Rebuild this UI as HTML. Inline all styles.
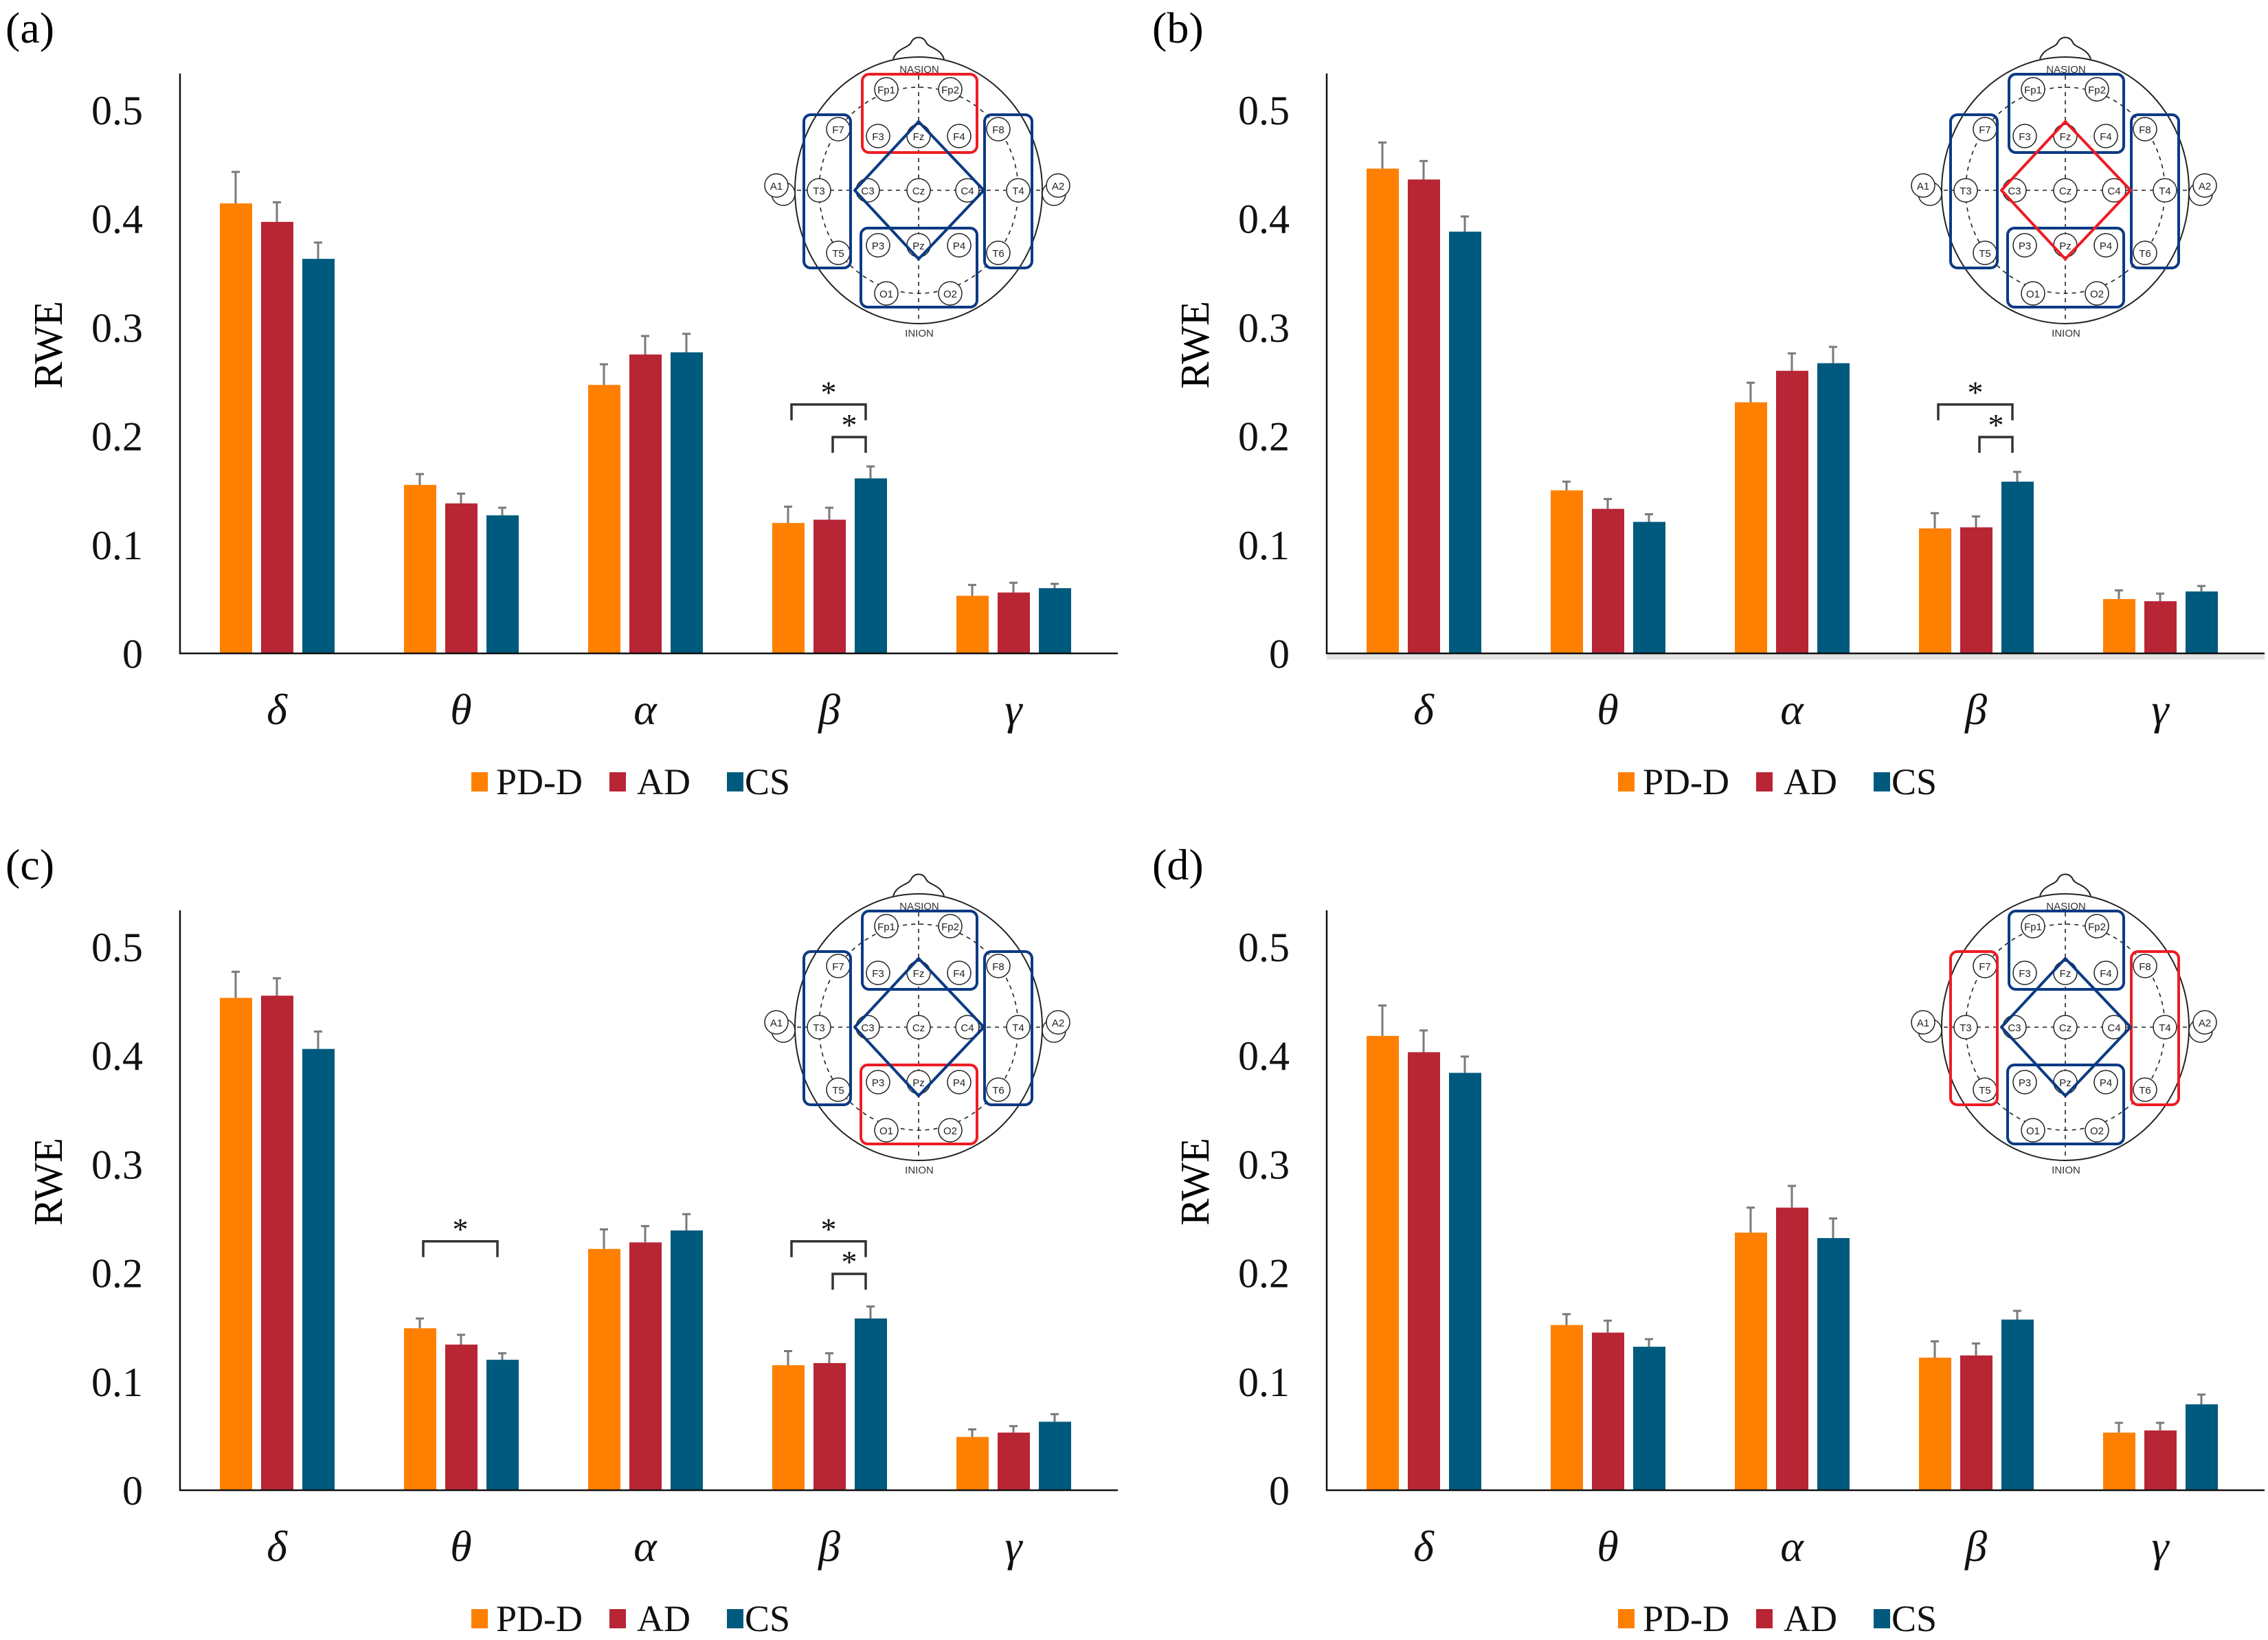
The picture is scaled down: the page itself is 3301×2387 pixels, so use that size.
<!DOCTYPE html>
<html><head><meta charset="utf-8"><style>
html,body{margin:0;padding:0;background:#fff;}
svg{display:block;}
</style></head><body>
<svg id="fig" xmlns="http://www.w3.org/2000/svg" width="3301" height="2387" viewBox="0 0 3301 2387" font-family="'Liberation Serif', serif"></svg>
<script>
// ---- data ----
const categories = ["δ","θ","α","β","γ"];
const seriesNames = ["PD-D","AD","CS"];
const yTicks = [0,0.1,0.2,0.3,0.4,0.5];
const yTickLabels = ["0","0.1","0.2","0.3","0.4","0.5"];
// panel (a)
const A_PD = [0.414,0.155,0.247,0.120,0.053];
const A_PD_ERR = [0.443,0.165,0.266,0.135,0.063];
const A_AD = [0.397,0.138,0.275,0.123,0.056];
const A_AD_ERR = [0.415,0.147,0.292,0.134,0.065];
const A_CS = [0.363,0.127,0.277,0.161,0.060];
const A_CS_ERR = [0.378,0.134,0.294,0.172,0.064];
// panel (b)
const B_PD = [0.446,0.150,0.231,0.115,0.050];
const B_PD_ERR = [0.470,0.158,0.249,0.129,0.058];
const B_AD = [0.436,0.133,0.260,0.116,0.048];
const B_AD_ERR = [0.453,0.142,0.276,0.126,0.055];
const B_CS = [0.388,0.121,0.267,0.158,0.057];
const B_CS_ERR = [0.402,0.128,0.282,0.167,0.062];
// panel (c)
const C_PD = [0.453,0.149,0.222,0.115,0.049];
const C_PD_ERR = [0.477,0.158,0.240,0.128,0.056];
const C_AD = [0.455,0.134,0.228,0.117,0.053];
const C_AD_ERR = [0.471,0.143,0.243,0.126,0.059];
const C_CS = [0.406,0.120,0.239,0.158,0.063];
const C_CS_ERR = [0.422,0.126,0.254,0.169,0.070];
// panel (d)
const D_PD = [0.418,0.152,0.237,0.122,0.053];
const D_PD_ERR = [0.446,0.162,0.260,0.137,0.062];
const D_AD = [0.403,0.145,0.260,0.124,0.055];
const D_AD_ERR = [0.423,0.156,0.280,0.135,0.062];
const D_CS = [0.384,0.132,0.232,0.157,0.079];
const D_CS_ERR = [0.399,0.139,0.250,0.165,0.088];
// significance brackets: [category index, from series, to series, level]
const A_SIG = [[3,0,2,0.229],[3,1,2,0.199]];
const B_SIG = [[3,0,2,0.229],[3,1,2,0.199]];
const C_SIG = [[1,0,2,0.229],[3,0,2,0.229],[3,1,2,0.199]];
const D_SIG = [];

const NS="http://www.w3.org/2000/svg";
const svg=document.getElementById('fig');
const COLORS=["#ff8000","#b82535","#005a7d"];
const SERIF="'Liberation Serif', serif";
const SANS="'Liberation Sans', sans-serif";
function mk(tag,attrs,parent){const e=document.createElementNS(NS,tag);for(const k in attrs)e.setAttribute(k,attrs[k]);(parent||svg).appendChild(e);return e;}
function tx(attrs,parent,fam){attrs['font-family']=fam||SERIF;const e=mk('text',attrs,parent);e.style.fontFamily=fam||SERIF;return e;}

function drawHead(g,red){
  const BL="#0b3a84",RD="#ee1c24";
  mk('path',{d:"M200,46 C205,30 222,30 226,22 C230,12 244,12 248,22 C252,30 269,30 274,46",fill:"#fff",stroke:"#222","stroke-width":2},g);
  mk('ellipse',{cx:237,cy:237,rx:180,ry:194,fill:"#fff",stroke:"#222","stroke-width":2},g);
  [[30,230,40],[440,230,434]].forEach(a=>{
    mk('circle',{cx:a[2],cy:a[1]+12,r:17,fill:"#fff",stroke:"#222","stroke-width":1.5},g);
  });
  mk('ellipse',{cx:237,cy:237,rx:145,ry:150,fill:"none",stroke:"#222","stroke-width":1.6,"stroke-dasharray":"6 6"},g);
  mk('line',{x1:60,y1:237,x2:414,y2:237,stroke:"#222","stroke-width":1.6,"stroke-dasharray":"6 6"},g);
  mk('line',{x1:237,y1:70,x2:237,y2:428,stroke:"#222","stroke-width":1.6,"stroke-dasharray":"6 6"},g);
  const t1=tx({x:238,y:66,"font-size":15,"text-anchor":"middle",fill:"#333"},g,SANS);t1.textContent="NASION";
  const t2=tx({x:238,y:450,"font-size":15,"text-anchor":"middle",fill:"#333"},g,SANS);t2.textContent="INION";
  const el=[["Fp1",190,90],["Fp2",283,90],["F7",120,148],["F3",178,158],["Fz",237,158],["F4",296,158],["F8",353,148],
    ["A1",30,230],["T3",92,237],["C3",163,237],["Cz",237,237],["C4",308,237],["T4",382,237],["A2",440,230],
    ["T5",120,328],["P3",178,317],["Pz",237,317],["P4",296,317],["T6",353,328],["O1",190,387],["O2",283,387]];
  el.forEach(e=>{
    mk('circle',{cx:e[1],cy:e[2],r:17,fill:"#fff",stroke:"#222","stroke-width":1.5},g);
    const t=tx({x:e[1],y:e[2]+6,"font-size":15,"text-anchor":"middle",fill:"#222"},g,SANS);t.textContent=e[0];
  });
  const c=k=>red.includes(k)?RD:BL;
  mk('rect',{x:155,y:68,width:167,height:114,rx:10,fill:"none",stroke:c('front'),"stroke-width":4},g);
  mk('rect',{x:70,y:127,width:68,height:223,rx:10,fill:"none",stroke:c('temp'),"stroke-width":4},g);
  mk('rect',{x:333,y:127,width:69,height:223,rx:10,fill:"none",stroke:c('temp'),"stroke-width":4},g);
  mk('rect',{x:153,y:292,width:169,height:115,rx:10,fill:"none",stroke:c('par'),"stroke-width":4},g);
  mk('polygon',{points:"237,137 332,237 237,337 144,237",fill:"none",stroke:c('cent'),"stroke-width":4,"stroke-linejoin":"round"},g);
}

function panel(id,ox,oy,PD,PDE,AD,ADE,CS,CSE,SIG,red,shade){
  const g=mk('g',{transform:`translate(${ox},${oy})`});
  
  
  const BASE=951, K=1582;
  const yv=v=>BASE-v*K;
  const xg=(i,s)=>320+268*i+60*s;
  const lab=tx({x:8,y:62,"font-size":64},g);lab.textContent=`(${id})`;
  
  
  if(shade){mk('rect',{x:262,y:BASE,width:1365,height:9,fill:"#e4e4e4"},g);}
  yTicks.forEach((v,k)=>{
    const t=tx({x:208,y:yv(v)+21,"font-size":60,"text-anchor":"end",fill:"#111"},g);
    t.textContent=yTickLabels[k];
    
    
  });
  const yt=tx({x:0,y:0,"font-size":59,"text-anchor":"middle",transform:`translate(90,502) rotate(-90)`},g);
  yt.textContent="RWE";
  
  
  const vals=[PD,AD,CS], errs=[PDE,ADE,CSE];
  categories.forEach((cat,i)=>{
    for(let s=0;s<3;s++){
      const x=xg(i,s), cx=x+23;
      const el=mk('line',{x1:cx,y1:yv(vals[s][i]),x2:cx,y2:yv(errs[s][i]),stroke:"#7a7a7a","stroke-width":3},g);
      
      
      mk('line',{x1:cx-6,y1:yv(errs[s][i]),x2:cx+6,y2:yv(errs[s][i]),stroke:"#7a7a7a","stroke-width":3},g);
      const r=mk('rect',{x:x,y:yv(vals[s][i]),width:47,height:vals[s][i]*K,fill:COLORS[s]},g);
      
      
    }
    const t=tx({x:xg(i,1)+23,y:1054,"font-size":64,"font-style":"italic","text-anchor":"middle",fill:"#111"},g);
    t.textContent=cat;
    
    
  });
  const ax=mk('path',{d:`M262,107 L262,${BASE} L1627,${BASE}`,fill:"none",stroke:"#111","stroke-width":2.5},g);
  
  
  SIG.forEach(b=>{
    const x1=xg(b[0],b[1])+28, x2=xg(b[0],b[2])+16, y=yv(b[3]);
    const p=mk('path',{d:`M${x1},${y+23} L${x1},${y} L${x2},${y} L${x2},${y+23}`,fill:"none",stroke:"#333","stroke-width":3.5},g);
    
    
    const st=tx({x:(x1+x2)/2,y:y-2,"font-size":46,"text-anchor":"middle",fill:"#111"},g);
    st.textContent="*";
    
    
  });
  const lg=mk('g',{},g);
  
  
  const lx=[686,887,1058], tpos=[722,927,1084];
  seriesNames.forEach((n,s)=>{
    mk('rect',{x:lx[s],y:1124,width:24,height:28,fill:COLORS[s]},lg);
    const t=tx({x:tpos[s],y:1156,"font-size":54,fill:"#111"},lg);
    t.textContent=n;
    
    
  });
  const hg=mk('g',{transform:"translate(1100,40)"},g);
  
  
  drawHead(hg,red);
}
panel('a',0,0,A_PD,A_PD_ERR,A_AD,A_AD_ERR,A_CS,A_CS_ERR,A_SIG,['front'],false);
panel('b',1669,0,B_PD,B_PD_ERR,B_AD,B_AD_ERR,B_CS,B_CS_ERR,B_SIG,['cent'],true);
panel('c',0,1218,C_PD,C_PD_ERR,C_AD,C_AD_ERR,C_CS,C_CS_ERR,C_SIG,['par'],false);
panel('d',1669,1218,D_PD,D_PD_ERR,D_AD,D_AD_ERR,D_CS,D_CS_ERR,D_SIG,['temp'],false);
</script>
</body></html>
